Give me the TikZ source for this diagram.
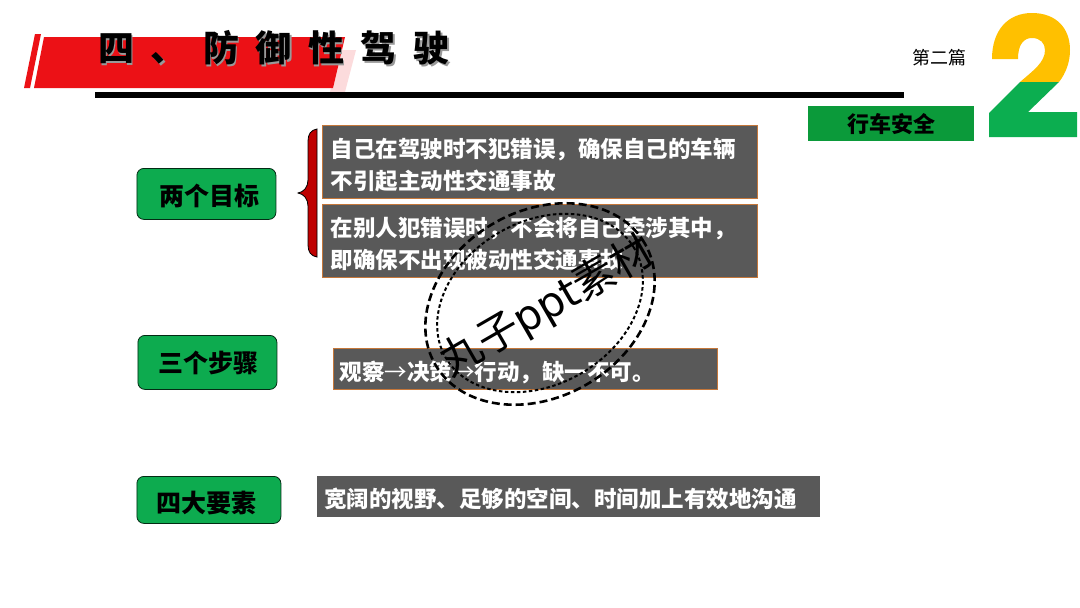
\documentclass[tikz,border=0pt]{standalone}
\usepackage{fontspec}
\usetikzlibrary{shapes.geometric}
\setmainfont{Noto Sans CJK SC}
\newfontfamily\titlefont[LetterSpace=46]{Noto Sans CJK SC}
\newfontfamily\latinstamp{DejaVu Sans}
\newcommand\padto[1]{\rule{0pt}{#1pt}}
\definecolor{boxgray}{HTML}{595959}
\definecolor{boxline}{HTML}{C5773A}
\definecolor{labelgreen}{HTML}{0DAB4F}
\definecolor{tabgreen}{HTML}{0B9A3A}
\definecolor{bandred}{HTML}{EC1116}
\definecolor{twoyellow}{HTML}{FFC000}
\definecolor{twogreen}{HTML}{0CAE50}
\tikzset{
  infobox/.style={fill=boxgray,draw=boxline,line width=1.2pt,inner sep=0pt,anchor=north west,align=left,text=white,font=\fontsize{22.5}{32}\selectfont\bfseries},
  goal/.style={fill=labelgreen,draw=black!75!labelgreen,line width=0.8pt,rounded corners=7pt,inner sep=0pt,anchor=north west,font=\fontsize{25}{28}\selectfont\bfseries},
  titletext/.style={inner sep=0pt,anchor=west,font=\fontsize{36}{40}\titlefont\bfseries},
}
\begin{document}
\begin{tikzpicture}[x=1pt,y=-1pt]
\useasboundingbox (0,0) rectangle (1080,608);
\fill[white] (0,0) rectangle (1080,608);
% title band
\fill[bandred!15] (340,50) -- (356,50) -- (345,92) -- (330,92) -- cycle;
\fill[bandred] (44,37) -- (345,37) -- (333,88) -- (34,88) -- cycle;
\fill[bandred] (35,34) -- (41,34) -- (30,88) -- (24,88) -- cycle;
\fill[black] (95,92) rectangle (904,98);
\node[titletext,text=black!40] (titleshadow) at (99.5,49.5) {四、防御性驾驶};
\node[titletext] (title) at (98,48) {四、防御性驾驶};
\node[inner sep=0pt,font=\fontsize{18}{20}\selectfont] (part) at (939,58) {第二篇};
% big 2
\fill[twoyellow] (992,59) .. controls (992,30) and (1008,13) .. (1032,13)
  .. controls (1056,13) and (1070,28) .. (1070,50)
  .. controls (1070,62) and (1066,73) .. (1059,82)
  -- (1020,82) .. controls (1034,70) and (1045,62) .. (1045,50)
  .. controls (1045,43) and (1040,38) .. (1032,38)
  .. controls (1024,38) and (1018,44) .. (1018,59) -- cycle;
\fill[twogreen] (1020,82) -- (1059,82) -- (1028,112) -- (1077,112) -- (1077,137) -- (989,137) -- (989,113) -- cycle;
\node[fill=tabgreen,inner sep=0pt,minimum width=166pt,minimum height=35pt,anchor=north west,font=\fontsize{22}{26}\selectfont\bfseries] (tab) at (808,106) {行车安全};
% brace
\draw[fill=red!75!black,draw=black,line width=0.8pt] (317,129) .. controls (311,130) and (308,134) .. (308,141)
  -- (308,180) .. controls (308,187) and (304,192) .. (298,193)
  .. controls (304,194) and (308,199) .. (308,206)
  -- (308,245) .. controls (308,252) and (311,256) .. (317,257) -- cycle;
% labels
\node[goal,minimum width=139pt,minimum height=51pt] (g1) at (136.5,168) {\hspace*{6pt}\padto{25.5}两个目标};
\node[goal,minimum width=139pt,minimum height=54pt] (g2) at (137.5,335) {\hspace*{2pt}\padto{23.5}三个步骤};
\node[goal,minimum width=144pt,minimum height=47pt] (g3) at (136.5,476) {\padto{27.5}四大要素\hspace*{4pt}};
% boxes
\node[infobox,minimum width=435pt,minimum height=73pt,text width=419pt] (b1) at (322,125) {\padto{25}自己在驾驶时不犯错误，确保自己的车辆\\不引起主动性交通事故};
\node[infobox,minimum width=435pt,minimum height=73pt,text width=419pt] (b2) at (322,204) {\padto{25}在别人犯错误时，不会将自己牵涉其中，\\即确保不出现被动性交通事故};
\node[infobox,minimum width=384pt,minimum height=41pt,text width=372pt] (b3) at (333,348) {\padto{26}观察{\mdseries →}决策{\mdseries →}行动，缺一不可。};
\node[infobox,draw=none,fill=boxgray,minimum width=503pt,minimum height=41pt,text width=489pt] (b4) at (316.5,475.5) {\padto{25}宽阔的视野、足够的空间、时间加上有效地沟通};
% stamp
\node[ellipse,draw,line width=2.6pt,dash pattern=on 8pt off 4pt,rotate=30,minimum width=242pt,minimum height=186pt,inner sep=0pt] (outer) at (540,304) {};
\node[ellipse,draw,line width=2pt,dash pattern=on 3.5pt off 2.5pt,rotate=30,minimum width=218pt,minimum height=163pt,inner sep=0pt] (inner) at (540,303) {};
\node[inner sep=0pt,rotate=30,font=\fontsize{42}{46}\selectfont] (stamp) at (547,307) {丸子{\latinstamp ppt}素材};
\end{tikzpicture}
\end{document}
